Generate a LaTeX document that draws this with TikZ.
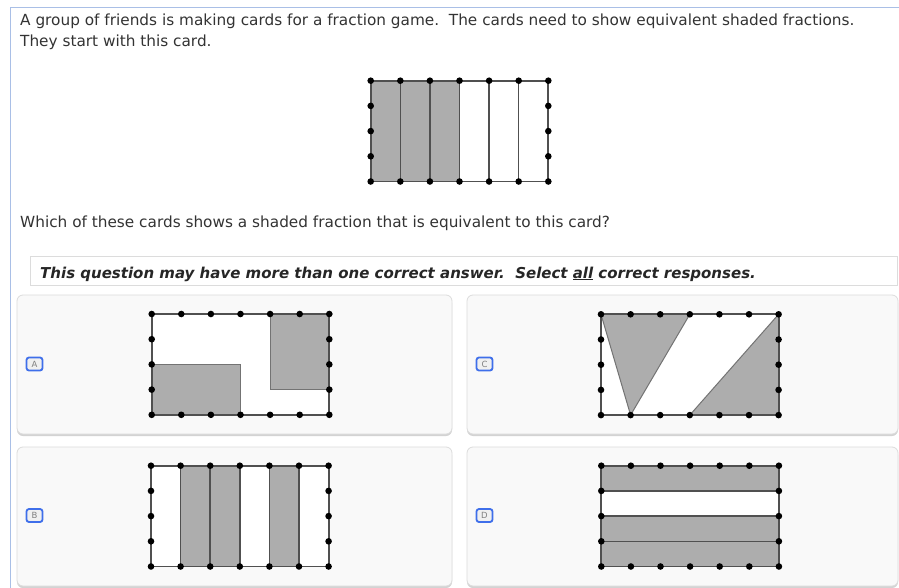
\documentclass[tikz,border=0pt]{standalone}
\usepackage{fontspec}
\setmainfont{DejaVu Sans}
\definecolor{shadegray}{HTML}{ADADAD}
\definecolor{framecol}{HTML}{A9BFE6}
\definecolor{cardfill}{HTML}{F9F9F9}
\definecolor{cardedge}{HTML}{DCDCDC}
\definecolor{cardshadow}{HTML}{D3D3D3}
\definecolor{textcol}{HTML}{333333}
\definecolor{labelblue}{HTML}{3F6FEA}
\definecolor{gridedge}{HTML}{505050}
\newcommand\carddotsrow{%
  \foreach \i in {0,...,6} {\fill (\i,0) circle[radius=3.3pt]; \fill (\i,4) circle[radius=3.3pt];}
  \foreach \j in {1,2,3} {\fill (0,\j) circle[radius=3.3pt]; \fill (6,\j) circle[radius=3.3pt];}}
\tikzset{
  bodytext/.style={anchor=base west, inner sep=0pt, text=textcol, font=\fontsize{15.3}{17}\selectfont},
  cardbox/.style={fill=cardfill, draw=cardedge, line width=0.8pt, rounded corners=6pt},
  cardshadowbox/.style={fill=cardshadow, rounded corners=6pt},
  labelbox/.style={draw=labelblue, line width=1.8pt, rounded corners=2.5pt, fill=white!94!black, minimum width=16pt, minimum height=13pt, inner sep=0pt, text=gray, font=\fontsize{8.5}{9}\selectfont},
  gridscale/.style={x=29.6pt, y=-25.2pt},
  shaded/.style={fill=shadegray, draw=gridedge!80, line width=1pt},
  innerline/.style={draw=gridedge, line width=1.5pt},
  outerline/.style={draw=gridedge, line width=1.8pt}
}
\begin{document}
\begin{tikzpicture}[x=1pt, y=-1pt]
\useasboundingbox (0,0) rectangle (899,588);
\fill[white] (0,0) rectangle (899,588);
\draw[framecol, line width=1pt] (10,588) -- (10,8) -- (899,8);

\node[bodytext] (t1) at (20,26) {A group of friends is making cards for a fraction game.\ \ The cards need to show equivalent shaded fractions.};
\node[bodytext] (t2) at (20,47) {They start with this card.};
\node[bodytext] (t3) at (20,227) {Which of these cards shows a shaded fraction that is equivalent to this card?};

\draw[cardedge, fill=white, line width=0.8pt] (30,256) rectangle (897,285);
\node[bodytext, font=\fontsize{15}{17}\selectfont\bfseries\itshape, text=black!85] (t4) at (40,278) {This question may have more than one correct answer.\ \ Select \underline{all} correct responses.};

% top card
\begin{scope}[shift={(370.7,80.7)}, gridscale]
  \fill[shadegray] (0,0) rectangle (3,4);
  \foreach \i in {1,...,5} \draw[innerline] (\i,0) -- (\i,4);
  \draw[outerline] (0,0) rectangle (6,4);
  \carddotsrow
\end{scope}

% option cards
\fill[cardshadowbox] (17,297) rectangle (452,436);
\draw[cardbox] (17,295) rectangle (452,434);
\fill[cardshadowbox] (467,297) rectangle (898,436);
\draw[cardbox] (467,295) rectangle (898,434);
\fill[cardshadowbox] (17,449) rectangle (452,588);
\draw[cardbox] (17,447) rectangle (452,586);
\fill[cardshadowbox] (467,449) rectangle (898,588);
\draw[cardbox] (467,447) rectangle (898,586);

\node[labelbox] (la) at (34.5,364) {A};
\node[labelbox] (lc) at (484.5,364) {C};
\node[labelbox] (lb) at (34.5,515.5) {B};
\node[labelbox] (ld) at (484.5,515.5) {D};

% A
\begin{scope}[shift={(151.7,314)}, gridscale]
  \fill[white] (0,0) rectangle (6,4);
  \filldraw[shaded] (0,2) rectangle (3,4);
  \filldraw[shaded] (4,0) rectangle (6,3);
  \draw[outerline] (0,0) rectangle (6,4);
  \carddotsrow
\end{scope}

% C
\begin{scope}[shift={(601,314.3)}, gridscale]
  \fill[white] (0,0) rectangle (6,4);
  \filldraw[shaded] (0,0) -- (3,0) -- (1,4) -- cycle;
  \filldraw[shaded] (3,4) -- (6,0) -- (6,4) -- cycle;
  \draw[outerline] (0,0) rectangle (6,4);
  \carddotsrow
\end{scope}

% B
\begin{scope}[shift={(151,465.7)}, gridscale]
  \fill[white] (0,0) rectangle (6,4);
  \fill[shadegray] (1,0) rectangle (3,4);
  \fill[shadegray] (4,0) rectangle (5,4);
  \foreach \i in {1,...,5} \draw[innerline] (\i,0) -- (\i,4);
  \draw[outerline] (0,0) rectangle (6,4);
  \carddotsrow
\end{scope}

% D
\begin{scope}[shift={(601.3,465.7)}, gridscale]
  \fill[white] (0,0) rectangle (6,4);
  \fill[shadegray] (0,0) rectangle (6,1);
  \fill[shadegray] (0,2) rectangle (6,4);
  \foreach \j in {1,2,3} \draw[innerline] (0,\j) -- (6,\j);
  \draw[outerline] (0,0) rectangle (6,4);
  \carddotsrow
\end{scope}
\end{tikzpicture}
\end{document}
